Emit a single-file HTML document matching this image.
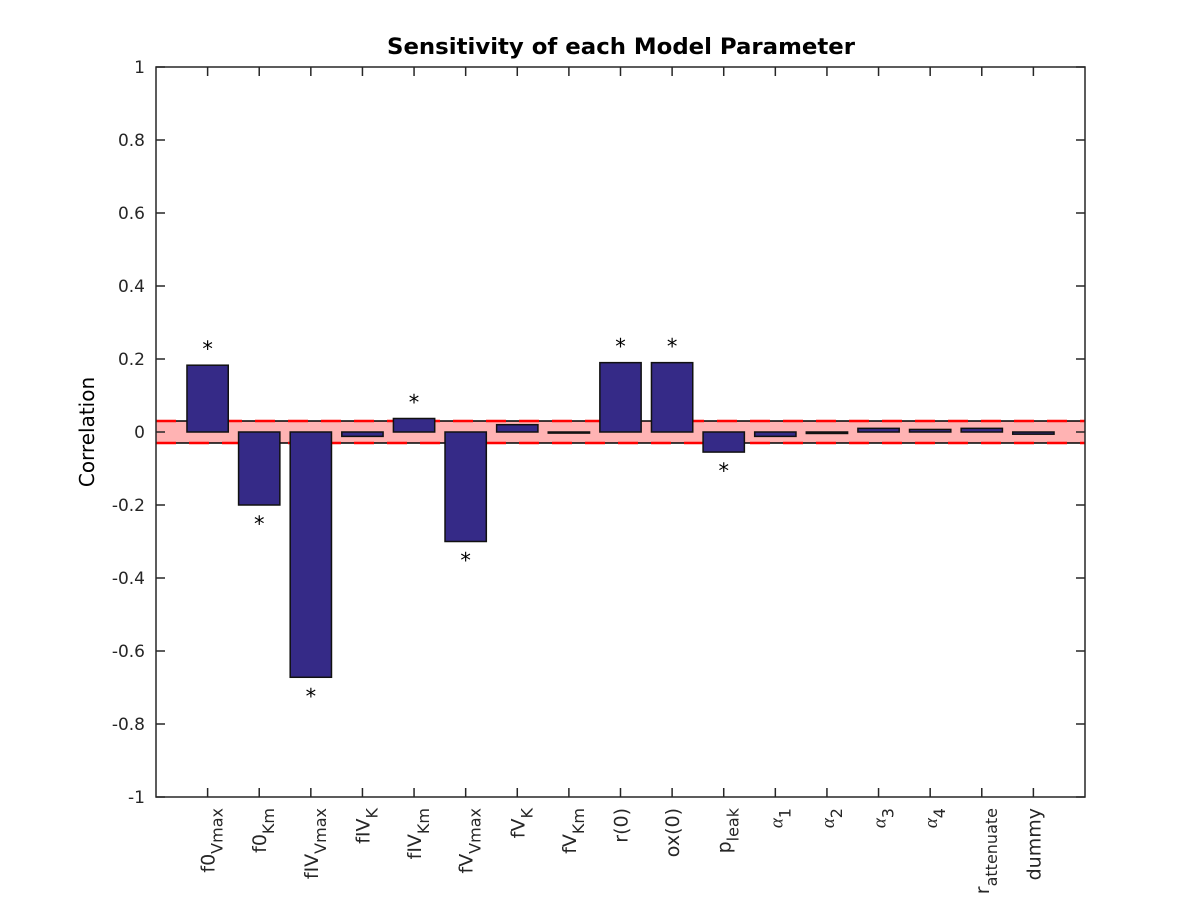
<!DOCTYPE html>
<html><head><meta charset="utf-8"><style>body{margin:0;background:#fff}svg{display:block}text{font-family:"DejaVu Sans","Liberation Sans",sans-serif}</style></head>
<body>
<svg id="chart" width="1200" height="900" viewBox="0 0 1200 900" xmlns="http://www.w3.org/2000/svg">
<rect width="1200" height="900" fill="#fff"/>
<text x="621" y="54" text-anchor="middle" font-size="22.5" font-weight="bold" textLength="468" lengthAdjust="spacingAndGlyphs">Sensitivity of each Model Parameter</text>
<text transform="translate(94,432) rotate(-90)" text-anchor="middle" font-size="20">Correlation</text>
<g id="band"></g><g id="bars"></g><g id="axes"></g>
</svg>
<script>
const labels=[["f0","Vmax"],["f0","Km"],["fIV","Vmax"],["fIV","K"],["fIV","Km"],["fV","Vmax"],["fV","K"],["fV","Km"],["r(0)",""],["ox(0)",""],["p","leak"],["α","1"],["α","2"],["α","3"],["α","4"],["r","attenuate"],["dummy",""]];
const values=[0.183,-0.2,-0.672,-0.012,0.037,-0.3,0.02,-0.003,0.19,0.19,-0.055,-0.012,-0.004,0.01,0.007,0.01,-0.006];
const significant=[1,1,1,0,1,1,0,0,1,1,1,0,0,0,0,0,0];
const yTicks=[-1,-0.8,-0.6,-0.4,-0.2,0,0.2,0.4,0.6,0.8,1];
const threshold=0.03;
const NS="http://www.w3.org/2000/svg";
const L=156,R=1085,T=67,B=797;
const xs=i=>L+(R-L)/18*(i+1);
const ys=v=>T+(1-v)/2*(B-T);
function mk(tag,attrs,parent){const e=document.createElementNS(NS,tag);for(const k in attrs)e.setAttribute(k,attrs[k]);parent.appendChild(e);return e;}
const band=document.getElementById('band'),bars=document.getElementById('bars'),axes=document.getElementById('axes');
let e=mk('rect',{x:L,y:ys(threshold),width:R-L,height:ys(-threshold)-ys(threshold),fill:'#ffb3b3'},band);


[threshold,-threshold].forEach(t=>{
 mk('line',{x1:L,x2:R,y1:ys(t),y2:ys(t),stroke:'#000','stroke-width':1.5},band);
 const d=mk('line',{x1:L,x2:R,y1:ys(t),y2:ys(t),stroke:'#f00','stroke-width':2.5,'stroke-dasharray':'20 13'},band);
 
 
});
const bw=(R-L)/18*0.8;
values.forEach((v,i)=>{
 const y0=ys(0),y1=ys(v);
 const r=mk('rect',{x:xs(i)-bw/2,y:Math.min(y0,y1),width:bw,height:Math.max(Math.abs(y1-y0),1),fill:'#352a87',stroke:'#111','stroke-width':1.5},bars);
 
 
 if(significant[i]){
  const s=mk('text',{x:xs(i),y:v>=0?y1-9:y1+26,'text-anchor':'middle','font-size':21},bars);
  s.textContent='*';
  
  
 }
});
const box=mk('rect',{x:L,y:T,width:R-L,height:B-T,fill:'none',stroke:'#262626','stroke-width':1.5},axes);


yTicks.forEach(t=>{
 const y=ys(t);
 mk('line',{x1:L,x2:L+9,y1:y,y2:y,stroke:'#262626','stroke-width':1.5},axes);
 mk('line',{x1:R,x2:R-9,y1:y,y2:y,stroke:'#262626','stroke-width':1.5},axes);
 const tx=mk('text',{x:L-11,y:y+6,'text-anchor':'end','font-size':17,fill:'#262626'},axes);
 tx.textContent=String(t);
 
 
});
labels.forEach((lb,i)=>{
 const x=xs(i);
 mk('line',{x1:x,x2:x,y1:B,y2:B-9,stroke:'#262626','stroke-width':1.5},axes);
 mk('line',{x1:x,x2:x,y1:T,y2:T+9,stroke:'#262626','stroke-width':1.5},axes);
 const tx=mk('text',{transform:`translate(${x+7},808) rotate(-90)`,'text-anchor':'end','font-size':19,fill:'#262626'},axes);
 
 
 const a=mk('tspan',{},tx);a.textContent=lb[0];
 if(lb[0]==='α'){a.setAttribute('font-family','Liberation Serif, serif');a.setAttribute('font-style','italic');}
 if(lb[1]){const b=mk('tspan',{'font-size':16,dy:8},tx);b.textContent=lb[1];}
});
</script>
</body></html>
